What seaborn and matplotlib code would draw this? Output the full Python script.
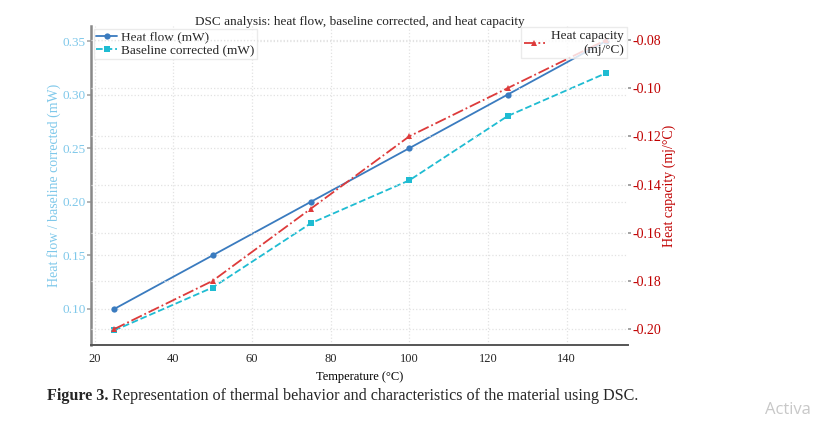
import matplotlib
matplotlib.use("Agg")
import matplotlib.pyplot as plt
import seaborn as sns
import pandas as pd

temperature = [25, 50, 75, 100, 125, 150]
heat_flow = [0.10, 0.15, 0.20, 0.25, 0.30, 0.35]
baseline_corrected = [0.08, 0.12, 0.18, 0.22, 0.28, 0.32]
heat_capacity = [-0.20, -0.18, -0.15, -0.12, -0.10, -0.08]

left_ticks = [0.10, 0.15, 0.20, 0.25, 0.30, 0.35]
right_ticks = [-0.20, -0.18, -0.16, -0.14, -0.12, -0.10, -0.08]
x_ticks = [20, 40, 60, 80, 100, 120, 140]

df = pd.DataFrame({"T": temperature, "hf": heat_flow, "bc": baseline_corrected, "hc": heat_capacity})

sns.set_theme(style="white")
plt.rcParams["font.family"] = ["Liberation Serif", "DejaVu Serif"]

fig = plt.figure(figsize=(8.22, 4.26), dpi=100)
ax = fig.add_axes([91 / 822, (426 - 345) / 426, (628 - 91) / 822, (345 - 26) / 426])
ax2 = ax.twinx()

c_hf = "#3a7bbf"
c_bc = "#1fbcd2"
c_hc = "#dd3b3b"

sns.lineplot(data=df, x="T", y="hf", ax=ax, color=c_hf, marker="o", markersize=4.5,
             markeredgewidth=0, linewidth=1.3, label="Heat flow (mW)")
sns.lineplot(data=df, x="T", y="bc", ax=ax, color=c_bc, marker="s", markersize=4.5,
             markeredgewidth=0, linewidth=1.3, linestyle="--", label="Baseline corrected (mW)")
sns.lineplot(data=df, x="T", y="hc", ax=ax2, color=c_hc, marker="^", markersize=4.5,
             markeredgewidth=0, linewidth=1.3, linestyle="-.", label="Heat capacity\n(mj/°C)")

ax.set_xlim(19.1, 155.6)
ax.set_ylim(0.0664, 0.364)
ax2.set_ylim(-0.2066, -0.0742)

ax.set_xticks(x_ticks)
ax.set_xticklabels([str(v) for v in x_ticks], fontsize=9)
ax.set_yticks(left_ticks)
ax.set_yticklabels([f"{v:.2f}" for v in left_ticks], fontsize=9.5, color="#7fc8ea")
ax2.set_yticks(right_ticks)
ax2.set_yticklabels([f"{v:.2f}" for v in right_ticks], fontsize=10, color="#c00000")

ax.grid(True, color="#e2e2e2", linestyle=":", linewidth=0.9)
ax2.grid(True, axis="y", color="#e2e2e2", linestyle=":", linewidth=0.9)
ax.set_axisbelow(True)

ax.set_xlabel("Temperature (°C)", fontsize=9, color="black")
ax.set_ylabel("Heat flow / baseline corrected (mW)", fontsize=10, color="#7fc8ea")
ax.yaxis.set_label_coords(-0.055, 0.5)
ax2.set_ylabel("Heat capacity (mj/°C)", fontsize=10, color="#c00000")
ax2.yaxis.set_label_coords(1.065, 0.5)
ax.set_title("DSC analysis: heat flow, baseline corrected, and heat capacity", fontsize=9.5, y=1.0, pad=1)

for a in (ax, ax2):
    for s in ("top", "right"):
        a.spines[s].set_visible(False)
ax2.spines["left"].set_visible(False)
ax2.spines["bottom"].set_visible(False)
ax.spines["left"].set_color("#888888")
ax.spines["left"].set_linewidth(1.8)
ax.spines["bottom"].set_color("#555555")
ax.spines["bottom"].set_linewidth(1.4)

ax.tick_params(axis="x", length=3, color="#aaaaaa", pad=3)
ax.tick_params(axis="y", length=3, color="#aaaaaa", pad=1)
ax2.tick_params(axis="y", length=2, color="#999999", pad=1)

leg1 = ax.legend(loc="upper left", fontsize=9.5, frameon=True, borderpad=0.2,
                 handlelength=1.6, handletextpad=0.3, labelspacing=0.05,
                 borderaxespad=0.2, fancybox=False)
leg1.get_frame().set_edgecolor("#e6e6e6")
leg2 = ax2.legend(loc="upper right", fontsize=9.5, frameon=True, borderpad=0.2,
                  handlelength=1.6, handletextpad=0.5, borderaxespad=0.1, fancybox=False)
leg2.get_frame().set_edgecolor("#e6e6e6")
for t in leg2.get_texts():
    t.set_multialignment("right")

fig.text(47 / 822, (426 - 396) / 426, "Figure 3.", fontsize=11.6, fontweight="bold", va="center")
fig.text(112 / 822, (426 - 396) / 426,
         "Representation of thermal behavior and characteristics of the material using DSC.",
         fontsize=11.6, va="center")
fig.text(765 / 822, (426 - 410) / 426, "Activa", fontsize=12, color="#c8c8c8",
         family=["Open Sans", "DejaVu Sans"], va="center")

fig.savefig("out.png", dpi=100)
